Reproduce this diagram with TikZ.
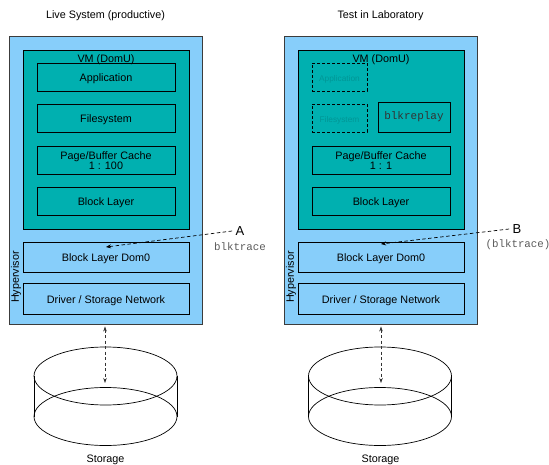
\documentclass[tikz,border=0pt]{standalone}
\usepackage{fontspec}
\setmainfont{Liberation Sans}
\setmonofont{Liberation Mono}
\usetikzlibrary{arrows.meta}
\definecolor{hypblue}{RGB}{135,206,250}
\definecolor{vmteal}{RGB}{0,176,176}
\definecolor{ghosttext}{RGB}{0,150,150}
\definecolor{framegray}{RGB}{60,60,60}
\definecolor{tracegray}{RGB}{90,90,90}
\tikzset{
  txt/.style={font=\fontsize{10.8}{11}\selectfont},
  oneline/.style={text height=9.6pt, text depth=0pt},
  hyperbox/.style={draw=framegray, line width=0.9pt, fill=hypblue, inner sep=0pt,
    minimum width=193pt, minimum height=288pt},
  vmbox/.style={draw=black, line width=0.8pt, fill=vmteal, inner sep=0pt,
    minimum width=166pt, minimum height=179pt},
  layerbox/.style={draw=black, line width=0.7pt, inner sep=0pt, txt, align=center,
    minimum width=138pt, minimum height=28pt},
  dombox/.style={draw=black, line width=0.7pt, inner sep=0pt, txt, oneline,
    minimum width=166pt, minimum height=30pt},
  ghostbox/.style={draw=black, line width=0.7pt, dash pattern=on 3pt off 2pt,
    inner sep=0pt, text=ghosttext, font=\fontsize{8.3}{9}\selectfont,
    minimum width=55pt, minimum height=28pt},
  toolbox/.style={draw=black, line width=0.7pt, inner sep=0pt,
    font=\ttfamily\fontsize{11}{12}\selectfont, text=black!80,
    minimum width=72pt, minimum height=30pt},
  tracelabel/.style={font=\ttfamily\fontsize{10.8}{12}\selectfont, text=tracegray},
  pointlabel/.style={font=\fontsize{13}{14}\selectfont},
  tracearrow/.style={draw=black, line width=0.7pt, dash pattern=on 3.5pt off 2.5pt,
    -{Stealth[length=5pt,width=4pt]}},
  ioarrow/.style={draw=black!80, line width=0.6pt, dash pattern=on 3pt off 2.5pt,
    {Stealth[length=5pt,width=3.5pt]}-{Stealth[length=5pt,width=3.5pt]}},
  disk/.style={draw=black, line width=0.7pt}
}
\begin{document}
\begin{tikzpicture}[x=1pt,y=-1pt]
  \useasboundingbox (0,0) rectangle (549,465);

  % ---------------- live system ----------------
  \node[txt] (titleL) at (105.5,16) {Live System (productive)};
  \node[hyperbox] (hypL) at (105.5,180) {};
  \node[vmbox] (vmL) at (106,139.5) {};
  \node[txt, anchor=north] (vmlabelL) at (106,51) {VM (DomU)};
  \node[layerbox, oneline] (appL) at (106,77) {Application};
  \node[layerbox, oneline] (fsL) at (106,118) {Filesystem};
  \node[layerbox] (pcL) at (106,160.5) {Page/Buffer Cache\\[-1pt]1 : 100};
  \node[layerbox, oneline] (blL) at (106,201) {Block Layer};
  \node[dombox] (d0L) at (106,257) {Block Layer Dom0};
  \node[dombox, minimum height=31pt] (drvL) at (106,298.5) {Driver / Storage Network};
  \node[txt, rotate=90] (hvL) at (16,277) {Hypervisor};

  \node[pointlabel] (A) at (240,231) {A};
  \node[tracelabel] (traceA) at (240,247) {blktrace};
  \coordinate (tipA) at (106,247);
  \draw[tracearrow] (A.west) -- (tipA);

  % storage of the live system
  \draw[disk] (105.5,376) ellipse [x radius=71.5, y radius=29];
  \draw[disk] (105.5,416.5) ellipse [x radius=71.5, y radius=29];
  \draw[disk] (34,376) -- (34,416.5) (177,376) -- (177,416.5);
  \coordinate (diskL) at (105,383);
  \draw[ioarrow] (hypL.south -| diskL) ++(0,2) -- (diskL);
  \node[txt, anchor=base] (storL) at (105.5,462) {Storage};

  % ---------------- laboratory ----------------
  \node[txt] (titleR) at (380.5,16) {Test in Laboratory};
  \node[hyperbox] (hypR) at (380.5,180) {};
  \node[vmbox] (vmR) at (381,139.5) {};
  \node[txt, anchor=north] (vmlabelR) at (381,51) {VM (DomU)};
  \node[ghostbox, oneline] (appR) at (339.5,77) {Application};
  \node[ghostbox, oneline] (fsR) at (339.5,118) {Filesystem};
  \node[toolbox] (replay) at (414,117) {blkreplay};
  \node[layerbox] (pcR) at (381,160.5) {Page/Buffer Cache\\[-1pt]1 : 1};
  \node[layerbox, oneline] (blR) at (381,201) {Block Layer};
  \node[dombox] (d0R) at (381,257) {Block Layer Dom0};
  \node[dombox, minimum height=31pt] (drvR) at (381,298.5) {Driver / Storage Network};
  \node[txt, rotate=90] (hvR) at (291,277) {Hypervisor};

  \node[pointlabel] (B) at (517,229) {B};
  \node[tracelabel] (traceB) at (518,245) {(blktrace)};
  \coordinate (tipB) at (381,244);
  \draw[tracearrow] (B.west) -- (tipB);

  % storage of the laboratory
  \draw[disk] (380,376) ellipse [x radius=71.5, y radius=29];
  \draw[disk] (380,416.5) ellipse [x radius=71.5, y radius=29];
  \draw[disk] (308.5,376) -- (308.5,416.5) (451.5,376) -- (451.5,416.5);
  \coordinate (diskR) at (381,383);
  \draw[ioarrow] (hypR.south -| diskR) ++(0,2) -- (diskR);
  \node[txt, anchor=base] (storR) at (380.5,462) {Storage};
\end{tikzpicture}
\end{document}
